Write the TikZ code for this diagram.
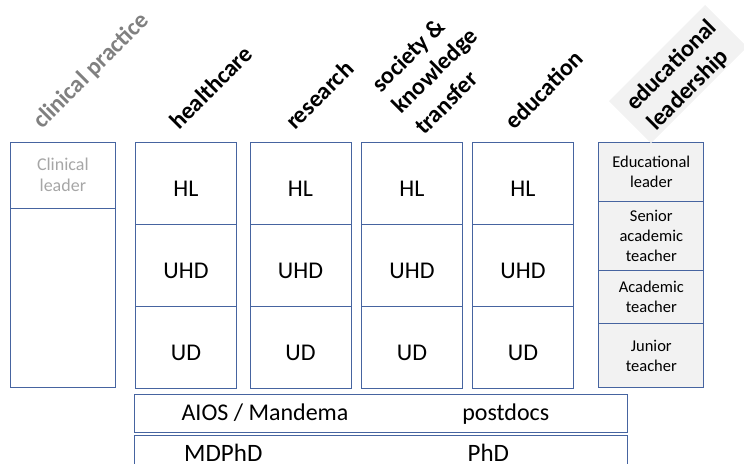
\documentclass[tikz,border=0pt]{standalone}
\usepackage{fontspec}
\setmainfont{Carlito}
\definecolor{bord}{RGB}{70,100,160}
\definecolor{cellgray}{RGB}{242,242,242}
\definecolor{hdrgray}{RGB}{128,128,128}
\definecolor{faint}{RGB}{166,166,166}
\begin{document}
\begin{tikzpicture}[x=1pt,y=-1pt,
  box/.style={draw=bord, line width=1pt, inner sep=0pt, anchor=north west},
  rankcell/.style={box, minimum width=101pt, minimum height=82pt, font=\fontsize{24}{29}\selectfont, text height=26.5pt, text depth=0pt},
  elcell/.style={box, fill=cellgray, minimum width=105pt, font=\fontsize{16.5}{20}\selectfont, align=center},
  hdr/.style={rotate=45, anchor=base west, inner sep=0pt, font=\fontsize{24}{29}\selectfont\bfseries},
  lbl/.style={anchor=base, inner sep=0pt, font=\fontsize{24}{29}\selectfont}]
\useasboundingbox (0,0) rectangle (744,463);
\clip (0,0) rectangle (744,463);

% rank columns
\foreach \c/\x in {hc/135,rs/249.5,sk/361,ed/472}{
  \node[rankcell] (\c-hl) at (\x,141.5) {HL};
  \node[rankcell] (\c-uhd) at (\x,223.5) {UHD};
  \node[rankcell] (\c-ud) at (\x,305.5) {UD};
}

% clinical column
\node[box, minimum width=104.7pt, minimum height=66.2pt, text=faint, align=center, font=\fontsize{18}{21}\selectfont] (cl-lead) at (10,141.5) {Clinical\\leader};
\node[box, minimum width=104.7pt, minimum height=179.6pt] (cl-rest) at (10,207.7) {};

% educational leadership column
\node[elcell, minimum height=59.5pt] (el-1) at (598.3,141.5) {Educational\\leader};
\node[elcell, minimum height=69pt] (el-2) at (598.3,201) {Senior\\academic\\teacher};
\node[elcell, minimum height=53.3pt] (el-3) at (598.3,270) {Academic\\teacher};
\node[elcell, minimum height=64pt] (el-4) at (598.3,323.3) {Junior\\teacher};

% bottom rows
\node[box, minimum width=492.7pt, minimum height=37.7pt] (row-post) at (134,394) {};
\node[lbl] (aios) at (265,420) {AIOS / Mandema};
\node[lbl] (postdocs) at (505.8,420) {postdocs};
\node[box, minimum width=493.2pt, minimum height=45pt] (row-phd) at (133.5,435) {};
\node[lbl, font=\fontsize{25}{30}\selectfont] (mdphd) at (223.3,461.5) {MDPhD};
\node[lbl, font=\fontsize{25}{30}\selectfont] (phd) at (488.3,461.5) {PhD};

% headers
\node[hdr, text=hdrgray] (h-cp) at (42,130) {clinical practice};
\node[hdr] (h-hc) at (179,131) {healthcare};
\node[hdr] (h-rs) at (295,131) {research};
\node[hdr] (h-sk1) at (381,93.7) {society \&};
\node[hdr] (h-sk2) at (401.5,114.9) {knowledge};
\node[hdr] (h-sk3) at (424,136.1) {transfer};
\node[hdr] (h-ed) at (514.5,131) {education};
\node[fill=cellgray, rotate=45, minimum width=136pt, minimum height=59.4pt, inner sep=0pt] (h-el-bg) at (678,74) {};
\node[hdr] (h-el1) at (635,112) {educational};
\node[hdr] (h-el2) at (656,132) {leadership};
\end{tikzpicture}
\end{document}
